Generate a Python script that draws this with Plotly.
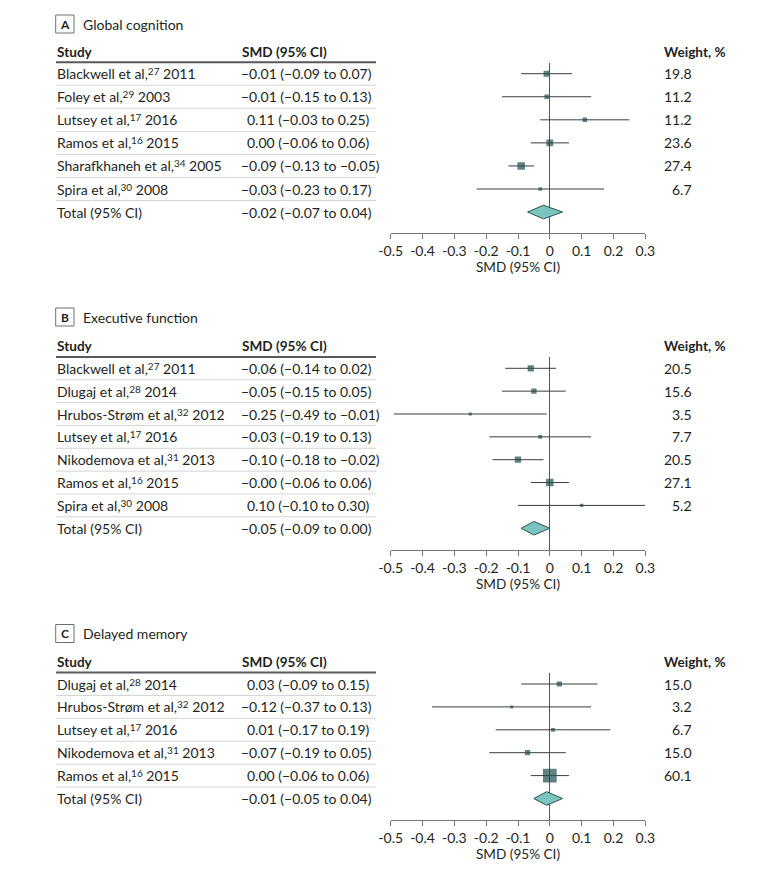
import plotly.graph_objects as go

W, H = 780, 872

# ---------------- data ----------------
panel_letters = ["A", "B", "C"]
panel_titles = ["Global cognition", "Executive function", "Delayed memory"]

authors_a = ["Blackwell et al,", "Foley et al,", "Lutsey et al,", "Ramos et al,",
             "Sharafkhaneh et al,", "Spira et al,"]
refs_a = ["27", "29", "17", "16", "34", "30"]
years_a = ["2011", "2003", "2016", "2015", "2005", "2008"]
smd_a = [-0.01, -0.01, 0.11, 0.00, -0.09, -0.03]
smd_a_text = ["−0.01", "−0.01", "0.11", "0.00", "−0.09", "−0.03"]
lo_a = [-0.09, -0.15, -0.03, -0.06, -0.13, -0.23]
hi_a = [0.07, 0.13, 0.25, 0.06, -0.05, 0.17]
weight_a = [19.8, 11.2, 11.2, 23.6, 27.4, 6.7]
total_a = [-0.02, -0.07, 0.04]

authors_b = ["Blackwell et al,", "Dlugaj et al,", "Hrubos-Strøm et al,", "Lutsey et al,",
             "Nikodemova et al,", "Ramos et al,", "Spira et al,"]
refs_b = ["27", "28", "32", "17", "31", "16", "30"]
years_b = ["2011", "2014", "2012", "2016", "2013", "2015", "2008"]
smd_b = [-0.06, -0.05, -0.25, -0.03, -0.10, -0.00, 0.10]
smd_b_text = ["−0.06", "−0.05", "−0.25", "−0.03", "−0.10", "−0.00", "0.10"]
lo_b = [-0.14, -0.15, -0.49, -0.19, -0.18, -0.06, -0.10]
hi_b = [0.02, 0.05, -0.01, 0.13, -0.02, 0.06, 0.30]
weight_b = [20.5, 15.6, 3.5, 7.7, 20.5, 27.1, 5.2]
total_b = [-0.05, -0.09, 0.00]

authors_c = ["Dlugaj et al,", "Hrubos-Strøm et al,", "Lutsey et al,", "Nikodemova et al,",
             "Ramos et al,"]
refs_c = ["28", "32", "17", "31", "16"]
years_c = ["2014", "2012", "2016", "2013", "2015"]
smd_c = [0.03, -0.12, 0.01, -0.07, 0.00]
smd_c_text = ["0.03", "−0.12", "0.01", "−0.07", "0.00"]
lo_c = [-0.09, -0.37, -0.17, -0.19, -0.06]
hi_c = [0.15, 0.13, 0.19, 0.05, 0.06]
weight_c = [15.0, 3.2, 6.7, 15.0, 60.1]
total_c = [-0.01, -0.05, 0.04]

tick_vals = [-0.5, -0.4, -0.3, -0.2, -0.1, 0, 0.1, 0.2, 0.3]
tick_text = ["-0.5", "-0.4", "-0.3", "-0.2", "-0.1", "0", "0.1", "0.2", "0.3"]

panels = [
    dict(auth=authors_a, refs=refs_a, yrs=years_a, smd=smd_a, txt=smd_a_text, lo=lo_a, hi=hi_a,
         w=weight_a, total=total_a),
    dict(auth=authors_b, refs=refs_b, yrs=years_b, smd=smd_b, txt=smd_b_text, lo=lo_b, hi=hi_b,
         w=weight_b, total=total_b),
    dict(auth=authors_c, refs=refs_c, yrs=years_c, smd=smd_c, txt=smd_c_text, lo=lo_c, hi=hi_c,
         w=weight_c, total=total_c),
]

# ---------------- layout constants (pixels) ----------------
geo = [
    dict(label_y=24, head_y=52.5, r0=73.7, rh=23.06, top=63, axis=233),
    dict(label_y=317, head_y=345.7, r0=368.3, rh=22.85, top=356.5, axis=550),
    dict(label_y=633.5, head_y=661.7, r0=684.0, rh=22.9, top=673.3, axis=820.3),
]
X_PLOT0, X_PLOT1 = 390.7, 645.3
X_STUDY = 55
X_SMD_NEG = 240
X_SMD_POS = 245.8
X_TABLE_L, X_TABLE_R = 56, 376
X_WEIGHT_L = 663
X_WEIGHT_R = 693

FONT = "Lato"
FS = 14
FS_HEAD = 13.6
TXT = "#231f20"
MARK = "#1f4d4b"
CI = "#3c3c3c"
DIA_FILL = "#7cc4c0"
DIA_LINE = "#2c5250"


def px(x):
    return x / W


def py(y):
    return 1 - y / H


def fmt(v):
    s = f"{abs(v):.2f}"
    return ("−" + s) if v < 0 else s


def study_label(a, r, yr):
    return f"{a}<span style='font-size:10px;baseline-shift:40%'>{r}</span> {yr}"


fig = go.Figure()
annotations = []
shapes = []
layout_axes = {}


def note(text, x, y, anchor="left", size=FS):
    annotations.append(dict(text=text, x=px(x), y=py(y), xref="paper", yref="paper",
                            xanchor=anchor, yanchor="middle", showarrow=False,
                            borderpad=0, font=dict(family=FONT, size=size, color=TXT)))


for p, (d, g) in enumerate(zip(panels, geo)):
    n = len(d["auth"])
    sfx = "" if p == 0 else str(p + 1)
    xa, ya = "x" + sfx, "y" + sfx
    r0, rh = g["r0"], g["rh"]
    idx_top = (g["top"] - r0) / rh
    idx_axis = (g["axis"] - r0) / rh
    rows = list(range(n))

    # CI lines + squares (square size scales with weight)
    sizes = [2.4 + 0.188 * w for w in d["w"]]
    fig.add_trace(go.Scatter(
        x=d["smd"], y=rows, mode="markers", xaxis=xa, yaxis=ya,
        marker=dict(symbol="square", size=sizes, color=MARK, line=dict(width=0)),
        error_x=dict(type="data", symmetric=False,
                     array=[h - e for h, e in zip(d["hi"], d["smd"])],
                     arrayminus=[e - l for e, l in zip(d["smd"], d["lo"])],
                     thickness=1, width=0, color=CI),
        showlegend=False, hoverinfo="skip"))

    # diamond for pooled total
    te, tl, th = d["total"]
    hh = 6.8 / rh
    fig.add_trace(go.Scatter(
        x=[tl, te, th, te, tl], y=[n, n - hh, n, n + hh, n], mode="lines",
        fill="toself", fillcolor=DIA_FILL, line=dict(color=DIA_LINE, width=1),
        xaxis=xa, yaxis=ya, showlegend=False, hoverinfo="skip"))

    layout_axes["xaxis" + sfx] = dict(
        domain=[px(X_PLOT0), px(X_PLOT1)], range=[-0.5, 0.3], anchor=ya,
        showgrid=False, zeroline=True, zerolinecolor="#555", zerolinewidth=1,
        showline=True, linecolor="#777", linewidth=1, ticks="outside",
        ticklen=5, tickcolor="#777", tickvals=tick_vals, ticktext=tick_text,
        tickfont=dict(family=FONT, size=14, color=TXT), automargin=False,
        title=dict(text="SMD (95% CI)", font=dict(family=FONT, size=13.6, color=TXT), standoff=4),
        fixedrange=True)
    layout_axes["yaxis" + sfx] = dict(
        domain=[py(g["axis"]), py(g["top"])], range=[idx_axis, idx_top], anchor=xa,
        visible=False, showgrid=False, zeroline=False, fixedrange=True, automargin=False)

    # panel label box + title
    shapes.append(dict(type="rect", xref="paper", yref="paper",
                       x0=px(55.7), x1=px(74), y0=py(g["label_y"] + 9), y1=py(g["label_y"] - 9),
                       line=dict(color="#6d6e71", width=1)))
    note("<b>" + panel_letters[p] + "</b>", 64.9, g["label_y"], "center", 12)
    note(panel_titles[p], 82, g["label_y"], "left", 14)

    # headers
    note("<b>Study</b>", X_STUDY + 1, g["head_y"], size=FS_HEAD)
    note("<b>SMD (95% CI)</b>", 241, g["head_y"], size=FS_HEAD)
    note("<b>Weight, %</b>", X_WEIGHT_L, g["head_y"], size=FS_HEAD)
    # header underline
    uy = r0 - 0.5 * rh
    shapes.append(dict(type="line", xref="paper", yref="paper", x0=px(X_TABLE_L), x1=px(X_TABLE_R),
                       y0=py(uy), y1=py(uy), line=dict(color="#58595b", width=2)))

    labels = [study_label(a, r, yr) for a, r, yr in zip(d["auth"], d["refs"], d["yrs"])]
    labels += ["Total (95% CI)"]
    est_txt = d["txt"] + [fmt(te)]
    los = d["lo"] + [tl]
    his = d["hi"] + [th]
    for i in range(n + 1):
        yy = r0 + i * rh
        note(labels[i], X_STUDY + 1, yy)
        xs = X_SMD_NEG if est_txt[i].startswith("−") else X_SMD_POS
        note(f"{est_txt[i]} ({fmt(los[i])} to {fmt(his[i])})", xs, yy, "left", FS)
        if i < n:
            note(f"{d['w'][i]:.1f}", X_WEIGHT_R, yy, "right", FS)
            sy = r0 + (i + 0.5) * rh
            shapes.append(dict(type="line", xref="paper", yref="paper", x0=px(X_TABLE_L),
                               x1=px(X_TABLE_R), y0=py(sy), y1=py(sy),
                               line=dict(color="#d4d4d4", width=1)))

fig.update_layout(
    width=W, height=H, margin=dict(l=0, r=0, t=0, b=0, autoexpand=False),
    paper_bgcolor="white", plot_bgcolor="rgba(0,0,0,0)",
    annotations=annotations, shapes=shapes, showlegend=False,
    font=dict(family=FONT, size=FS, color=TXT),
    **layout_axes)

fig.write_html("out.html", config={"displayModeBar": False},
               post_script="document.body.style.margin='0';document.body.style.overflow='hidden';")
